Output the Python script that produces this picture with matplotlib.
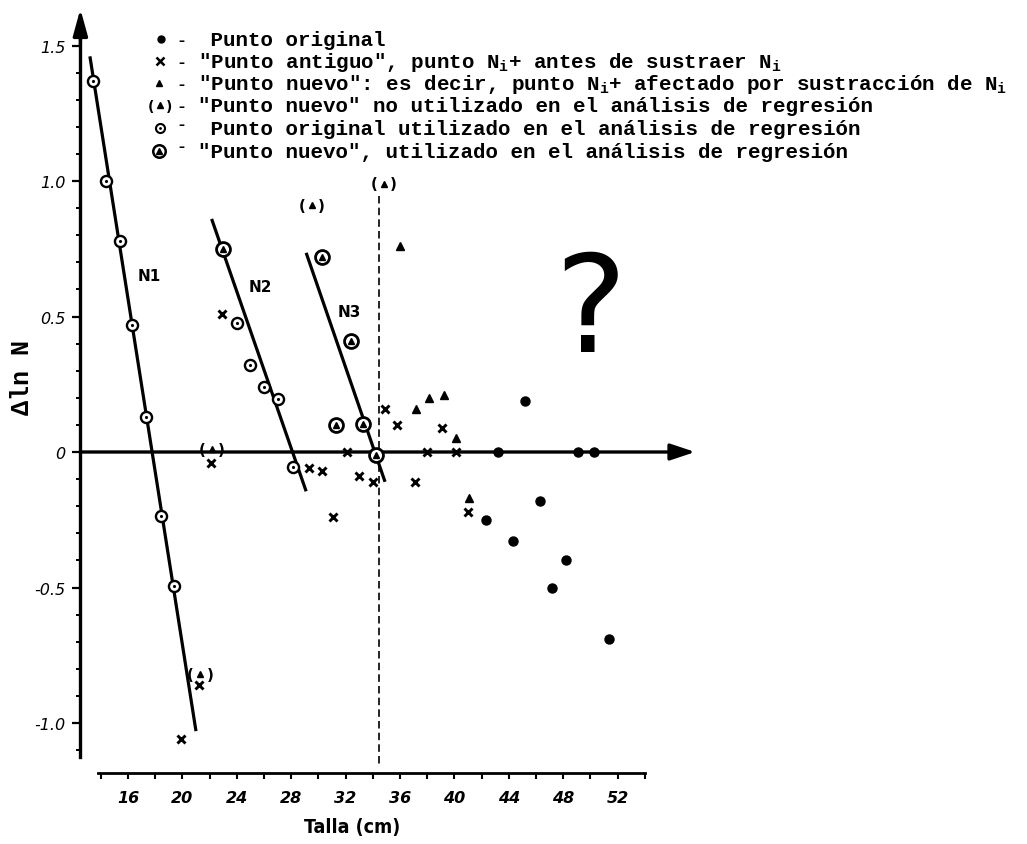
import matplotlib
matplotlib.use("Agg")
import matplotlib.pyplot as plt
from matplotlib.transforms import Affine2D
import numpy as np

# ---------------------------------------------------------------------------
# Data (talla en cm, Δln N)
# ---------------------------------------------------------------------------
# Punto original
orig_x = [42.3, 43.2, 44.3, 45.2, 46.3, 47.2, 48.2, 49.1, 50.3, 51.4]
orig_y = [-0.25, 0.0, -0.33, 0.19, -0.18, -0.50, -0.40, 0.0, 0.0, -0.69]

# "Punto antiguo"
old_x = [19.9, 21.2, 22.1, 22.9, 29.3, 30.3, 31.1, 32.1, 33.0, 34.0,
         34.9, 35.8, 37.1, 38.0, 39.1, 40.1, 41.0]
old_y = [-1.06, -0.86, -0.04, 0.51, -0.06, -0.07, -0.24, 0.0, -0.09, -0.11,
         0.16, 0.10, -0.11, 0.0, 0.09, 0.0, -0.22]

# "Punto nuevo"
new_x = [36.0, 37.2, 38.1, 39.2, 40.1, 41.1]
new_y = [0.76, 0.16, 0.20, 0.21, 0.05, -0.17]

# "Punto nuevo" no utilizado en la regresión
unused_x = [21.3, 22.15, 29.5, 34.8]
unused_y = [-0.82, 0.01, 0.91, 0.99]

# Punto original utilizado en la regresión
used_orig_x = [13.4, 14.4, 15.4, 16.3, 17.3, 18.4, 19.4,
               24.0, 25.0, 26.0, 27.05, 28.15]
used_orig_y = [1.37, 1.0, 0.78, 0.47, 0.13, -0.235, -0.495,
               0.475, 0.32, 0.24, 0.195, -0.055]

# "Punto nuevo" utilizado en la regresión
used_new_x = [23.0, 30.3, 31.3, 32.4, 33.3, 34.2]
used_new_y = [0.75, 0.72, 0.10, 0.41, 0.105, -0.01]

# Rectas de regresión (extremos)
reg_names = ["N1", "N2", "N3"]
reg_x = [[13.2, 21.0], [22.15, 29.1], [29.1, 34.9]]
reg_y = [[1.46, -1.03], [0.86, -0.145], [0.735, -0.11]]
reg_label_pos = [(17.6, 0.65), (25.7, 0.61), (32.25, 0.52)]

cut_x = 34.45  # talla límite (línea discontinua)

y_ticks = [-1.0, -0.5, 0.0, 0.5, 1.0, 1.5]
y_ticklabels = ["-1.0", "-0.5", "0", "0.5", "1.0", "1.5"]
x_ticks = list(range(14, 55, 2))
x_ticklabels = [str(t) if (t % 4 == 0 and 16 <= t <= 52) else "" for t in x_ticks]

SUB = r"$_\mathrm{i}$"
legend_rows = [
    ' Punto original',
    f'"Punto antiguo", punto N{SUB}+ antes de sustraer N{SUB}',
    f'"Punto nuevo": es decir, punto N{SUB}+ afectado por sustracción de N{SUB}',
    '"Punto nuevo" no utilizado en el análisis de regresión',
    ' Punto original utilizado en el análisis de regresión',
    '"Punto nuevo", utilizado en el análisis de regresión',
]

# ---------------------------------------------------------------------------
plt.rcParams["mathtext.fontset"] = "custom"
plt.rcParams["mathtext.rm"] = "Liberation Mono:bold"
plt.rcParams["mathtext.it"] = "Liberation Mono:bold"
plt.rcParams["mathtext.bf"] = "Liberation Mono:bold"

W, H = 1027, 845
fig = plt.figure(figsize=(W / 100, H / 100), dpi=100)
ax = fig.add_axes([0, 0, 1, 1])
ax.set_xlim(6.59, 82.1)
ax.set_ylim(-1.4465, 1.6716)

# pixel coordinates (origin top-left) for free-standing annotations
tpx = Affine2D().scale(1 / W, -1 / H).translate(0, 1) + fig.transFigure

MONO = ["Liberation Mono", "DejaVu Sans Mono"]

# axes
for s in ("top", "right"):
    ax.spines[s].set_visible(False)
ax.spines["left"].set_position(("data", 12.5))
ax.spines["left"].set_bounds(-1.125, 1.56)
ax.spines["left"].set_linewidth(2.4)
ax.spines["bottom"].set_position(("data", -1.185))
ax.spines["bottom"].set_bounds(13.8, 54.0)
ax.spines["bottom"].set_linewidth(2.0)

ax.set_yticks(y_ticks)
ax.set_yticklabels(y_ticklabels)
ax.set_yticks(np.round(np.arange(-1.1, 1.55, 0.1), 2), minor=True)
ax.tick_params(axis="y", which="major", direction="out", length=6, width=1.6,
               pad=5, labelsize=11.5)
ax.tick_params(axis="y", which="minor", direction="out", length=3, width=1.4)
ax.set_xticks(x_ticks)
ax.set_xticklabels(x_ticklabels)
ax.tick_params(axis="x", which="major", direction="out", length=4, width=1.5,
               pad=8, labelsize=11.5)
for lab in ax.get_yticklabels():
    lab.set_fontstyle("italic")
for lab in ax.get_xticklabels():
    lab.set_fontstyle("italic")
    lab.set_fontweight("bold")

# arrow heads of the axes
ax.annotate("", xy=(12.5, 1.635), xytext=(12.5, 1.50),
            arrowprops=dict(arrowstyle="-|>,head_length=0.8,head_width=0.22",
                            lw=2.4, color="k", mutation_scale=20,
                            shrinkA=0, shrinkB=0))
ax.annotate("", xy=(57.7, 0.0), xytext=(12.5, 0.0),
            arrowprops=dict(arrowstyle="-|>,head_length=0.75,head_width=0.25",
                            lw=2.4, color="k", mutation_scale=20,
                            shrinkA=0, shrinkB=0), zorder=2)

# dashed cut-off line
ax.plot([cut_x, cut_x], [0.945, -1.16], color="k", lw=1.2, dashes=(4.5, 2.5),
        zorder=1)

# regression lines
for name, xs, ys, (lx, ly) in zip(reg_names, reg_x, reg_y, reg_label_pos):
    ax.plot(xs, ys, color="k", lw=2.3, solid_capstyle="butt", zorder=2)
    ax.text(lx, ly, name, fontsize=11, fontweight="bold", ha="center",
            va="center")

# points
ax.plot(orig_x, orig_y, "o", ms=6.5, color="k", ls="none", zorder=4)
ax.plot(old_x, old_y, "x", ms=6, mew=2.1, color="k", ls="none", zorder=4)
ax.plot(new_x, new_y, "^", ms=5.5, color="k", ls="none", zorder=4)
ax.plot(unused_x, unused_y, "^", ms=5, color="k", ls="none", zorder=4)
for x, y in zip(unused_x, unused_y):
    ax.annotate("(", (x, y), xytext=(-7, 0), textcoords="offset points",
                ha="center", va="center", fontsize=11, fontweight="bold")
    ax.annotate(")", (x, y), xytext=(7, 0), textcoords="offset points",
                ha="center", va="center", fontsize=11, fontweight="bold")
ax.plot(used_orig_x, used_orig_y, "o", ms=8, mfc="white", mec="k", mew=1.7,
        ls="none", zorder=5)
ax.plot(used_orig_x, used_orig_y, ".", ms=2.5, color="k", ls="none", zorder=6)
ax.plot(used_new_x, used_new_y, "o", ms=10, mfc="white", mec="k", mew=2,
        ls="none", zorder=5)
ax.plot(used_new_x, used_new_y, "^", ms=5, color="k", ls="none", zorder=6)

# big question mark
ax.text(50.0, 0.373, "?", fontsize=98, ha="center", va="baseline",
        family="DejaVu Sans")

# axis titles
ax.text(22, 378, "Δln N", transform=tpx, rotation=90, fontsize=18,
        family=MONO, fontweight="bold", ha="center", va="center")
ax.text(352, 828, "Talla (cm)", transform=tpx, fontsize=14,
        family="DejaVu Sans", fontstretch="condensed", fontweight="bold",
        ha="center", va="center")

# legend
row_y = [40, 62, 84, 106, 129, 152]
fs_leg = 15
text_x = 198

mk = dict(transform=tpx, color="k", ls="none", clip_on=False)
ax.plot([161], [row_y[0]], "o", ms=5, **mk)
ax.plot([160], [row_y[1]], "x", ms=5.5, mew=1.8, **mk)
ax.plot([159], [row_y[2]], "^", ms=4.5, **mk)
ax.plot([160], [row_y[3]], "^", ms=4.5, **mk)
ax.text(151, row_y[3] + 1, "(", transform=tpx, fontsize=10, fontweight="bold",
        ha="center", va="center")
ax.text(169, row_y[3] + 1, ")", transform=tpx, fontsize=10, fontweight="bold",
        ha="center", va="center")
ax.plot([160], [row_y[4]], "o", ms=6.5, mfc="white", mec="k", mew=1.5, **mk)
ax.plot([160], [row_y[4]], ".", ms=2, **mk)
ax.plot([159], [row_y[5]], "o", ms=9, mfc="white", mec="k", mew=1.8, **mk)
ax.plot([159], [row_y[5]], "^", ms=4.5, **mk)

for k, (ry, s) in enumerate(zip(row_y, legend_rows)):
    dash_y = ry if k < 4 else ry - 5
    ax.text(181, dash_y, "-", transform=tpx, fontsize=12, family=MONO,
            fontweight="bold", ha="center", va="center")
    ax.text(text_x, ry + 6, s, transform=tpx, fontsize=fs_leg, family=MONO,
            fontweight="bold", ha="left", va="baseline")

fig.savefig("out.png", dpi=100)
